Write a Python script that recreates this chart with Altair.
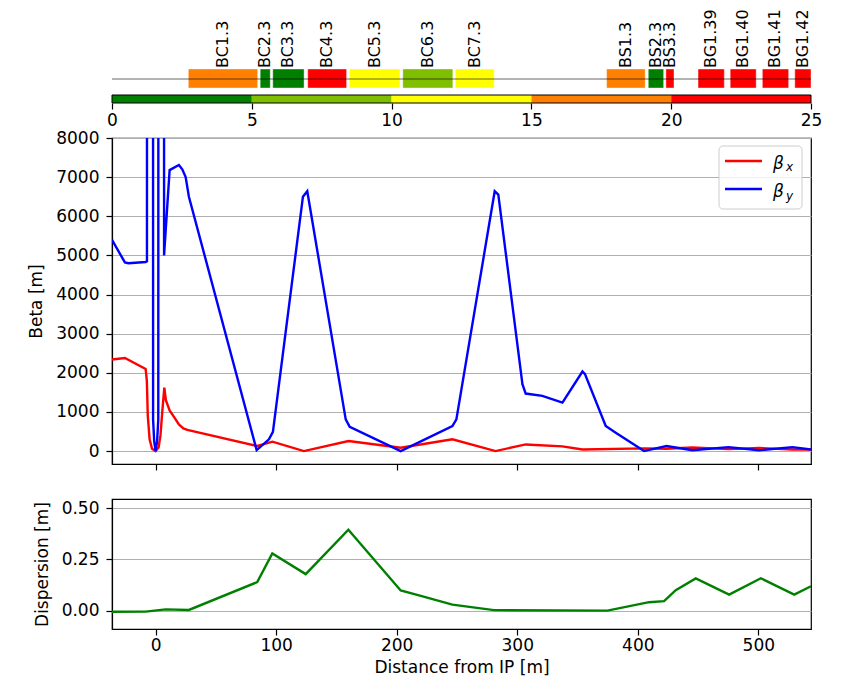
import altair as alt
import pandas as pd

# ---------------- data ----------------
# horizontal beta function
bx_s = [-36.2, -25.5, -8.3, -7.3, -6.5, -5.0, -3.0, 0.0, 2.5, 4.0, 5.5, 7.2, 8.5, 11.6, 15.5, 19.3, 23.0, 26.3,
        84.4, 96.9, 123.0, 160.0, 203.3, 246.2, 282.0, 307.0, 337.5, 354.1, 405.2, 423.8, 445.4, 475.2,
        500.6, 528.3, 543.7]
bx_v = [2340, 2380, 2100, 1800, 900, 300, 60, 0, 100, 400, 1000, 1620, 1300, 1040, 860, 680, 580, 540,
        130, 240, 0, 256, 85, 300, 0, 170, 120, 40, 70, 60, 90, 50,
        80, 40, 40]
# vertical beta function
by_s = [-36.2, -25.5, -22.7, -8.3, -7.2, -6.8, -2.4, -2.1, -1.2, 0.0, 1.2, 2.2, 2.6, 6.8, 7.0, 11.6, 19.3,
        22.1, 24.9, 27.6, 83.8, 94.0, 97.3, 122.2, 125.8, 157.7, 161.0, 203.3, 246.2, 249.5, 281.3,
        284.3, 304.3, 307.0, 320.8, 337.5, 354.1, 356.2, 373.4, 381.7, 405.2, 423.8, 445.4, 475.2,
        500.6, 528.3, 543.7]
by_v = [5400, 4820, 4800, 4830, 4850, 60000, 60000, 800, 250, 0, 250, 800, 60000, 60000, 5000, 7180, 7310,
        7200, 7000, 6500, 25, 300, 490, 6500, 6640, 810, 620, 0, 640, 810, 6640,
        6555, 1710, 1470, 1410, 1240, 2034, 1966, 640, 470, 0, 128, 20, 100,
        20, 100, 40]
# dispersion
d_s = [-36.2, -8.3, 8.3, 27.6, 84.3, 96.8, 124.5, 159.9, 203.3, 218.5, 246.2, 280.7, 374.8, 409.4,
       421.8, 431.5, 448.1, 475.8, 502.1, 529.8, 543.7]
d_v = [-0.006, -0.005, 0.006, 0.003, 0.139, 0.279, 0.178, 0.395, 0.098, 0.074, 0.029, 0.002, 0.0, 0.041,
       0.046, 0.10, 0.157, 0.078, 0.158, 0.078, 0.119]

# magnets (top strip, 0-25 scale)
mag_names = ["BC1.3", "BC2.3", "BC3.3", "BC4.3", "BC5.3", "BC6.3", "BC7.3",
             "BS1.3", "BS2.3", "BS3.3", "BG1.39", "BG1.40", "BG1.41", "BG1.42"]
mag_start = [2.73, 5.30, 5.75, 7.00, 8.49, 10.40, 12.28, 17.69, 19.18, 19.81, 20.96, 22.11, 23.26, 24.42]
mag_end = [5.21, 5.66, 6.87, 8.39, 10.30, 12.19, 13.67, 19.07, 19.73, 20.10, 21.90, 23.04, 24.20, 25.0]
mag_color = ["#ff7f00", "#007f00", "#007f00", "#ff0000", "#ffff00", "#7fbf00", "#ffff00",
             "#ff7f00", "#007f00", "#ff0000", "#ff0000", "#ff0000", "#ff0000", "#ff0000"]

band_lo = [0, 5, 10, 15, 20]
band_hi = [5, 10, 15, 20, 25]
band_color = ["#007f00", "#7fbf00", "#ffff00", "#ff7f00", "#ff0000"]
band_ticks = [0, 5, 10, 15, 20, 25]

s_ticks = [0, 100, 200, 300, 400, 500]
beta_ticks = [0, 1000, 2000, 3000, 4000, 5000, 6000, 7000, 8000]
disp_ticks = [0.0, 0.25, 0.5]

W = 699
FONT = "DejaVu Sans"
LW = 2.4

# ---------------- top strip ----------------
mag_df = pd.DataFrame({"name": mag_names, "start": mag_start, "end": mag_end, "color": mag_color})
band_df = pd.DataFrame({"lo": band_lo, "hi": band_hi, "color": band_color})
span_df = pd.DataFrame({"a": [band_ticks[0]], "b": [band_ticks[-1]]})

xtop_scale = alt.Scale(domain=[0, 25], nice=False, zero=False)
top_axis = alt.Axis(values=band_ticks, format="d", tickSize=6, labelPadding=3, domain=False,
                    grid=False, title=None, labelFontSize=17, labelFlush=False)


def xt(field):
    return alt.X(field, type="quantitative", scale=xtop_scale, axis=top_axis)


rects = alt.Chart(mag_df).mark_rect(stroke="white", strokeWidth=0.8, strokeOpacity=0.5).encode(
    x=xt("start"), x2="end:Q", y=alt.value(0), y2=alt.value(19),
    color=alt.Color("color:N", scale=None))
hline = alt.Chart(span_df).mark_rule(color="black", opacity=0.6, strokeWidth=1).encode(
    x=xt("a"), x2="b:Q", y=alt.value(10))
labels = alt.Chart(mag_df).transform_calculate(mid="(datum.start + datum.end) / 2").mark_text(
    angle=270, align="left", baseline="middle", fontSize=16, font=FONT, color="black").encode(
    x=xt("mid"), y=alt.value(-1), text="name:N")
bands = alt.Chart(band_df).mark_rect().encode(
    x=xt("lo"), x2="hi:Q", y=alt.value(26), y2=alt.value(34),
    color=alt.Color("color:N", scale=None))
outline = alt.Chart(span_df).mark_rect(fillOpacity=0, stroke="black", strokeWidth=1).encode(
    x=xt("a"), x2="b:Q", y=alt.value(26), y2=alt.value(34))

top = alt.layer(rects, hline, labels, bands, outline).properties(
    width=W, height=34, view=alt.ViewBackground(stroke="transparent"))

# ---------------- beta panel ----------------
beta_df = pd.concat([
    pd.DataFrame({"s": bx_s, "beta": bx_v, "plane": "x"}),
    pd.DataFrame({"s": by_s, "beta": by_v, "plane": "y"}),
])
xs_scale = alt.Scale(domain=[-36.2, 543.7], nice=False, zero=False)

beta_lines = alt.Chart(beta_df).mark_line(clip=True, strokeWidth=LW).encode(
    x=alt.X("s:Q", scale=xs_scale,
            axis=alt.Axis(values=s_ticks, labels=False, tickSize=6, grid=False, title=None)),
    y=alt.Y("beta:Q", scale=alt.Scale(domain=[-330, 8000], nice=False, zero=False),
            axis=alt.Axis(values=beta_ticks, format="d", tickSize=6, labelPadding=7, grid=True,
                          title="Beta [m]", titlePadding=10)),
    color=alt.Color("plane:N", scale=alt.Scale(domain=["x", "y"], range=["#ff0000", "#0000ff"]),
                    legend=None),
)

one = pd.DataFrame({"k": [0]})
leg_box = alt.Chart(one).mark_rect(fill="white", fillOpacity=0.8, stroke="#cccccc", strokeWidth=1,
                                   cornerRadius=4).encode(
    x=alt.value(607), x2=alt.value(690), y=alt.value(8), y2=alt.value(71))
leg_r = alt.Chart(one).mark_rule(color="#ff0000", strokeWidth=LW).encode(
    x=alt.value(613), x2=alt.value(650), y=alt.value(23))
leg_b = alt.Chart(one).mark_rule(color="#0000ff", strokeWidth=LW).encode(
    x=alt.value(613), x2=alt.value(650), y=alt.value(51))
leg_t1 = alt.Chart(one).mark_text(text="β", fontSize=17, fontStyle="italic", font=FONT, align="left",
                                  baseline="alphabetic", color="black").encode(
    x=alt.value(661), y=alt.value(31))
leg_s1 = alt.Chart(one).mark_text(text="x", fontSize=12, fontStyle="italic", font=FONT, align="left",
                                  baseline="alphabetic", color="black").encode(
    x=alt.value(674), y=alt.value(33))
leg_t2 = alt.Chart(one).mark_text(text="β", fontSize=17, fontStyle="italic", font=FONT, align="left",
                                  baseline="alphabetic", color="black").encode(
    x=alt.value(661), y=alt.value(59))
leg_s2 = alt.Chart(one).mark_text(text="y", fontSize=12, fontStyle="italic", font=FONT, align="left",
                                  baseline="alphabetic", color="black").encode(
    x=alt.value(674), y=alt.value(62))

mid = alt.layer(beta_lines, leg_box, leg_r, leg_b, leg_t1, leg_s1, leg_t2, leg_s2).properties(
    width=W, height=326)

# ---------------- dispersion panel ----------------
disp_df = pd.DataFrame({"s": d_s, "D": d_v})
bot = alt.Chart(disp_df).mark_line(color="#008000", strokeWidth=LW, clip=True).encode(
    x=alt.X("s:Q", scale=xs_scale,
            axis=alt.Axis(values=s_ticks, format="d", tickSize=6, labelPadding=2, grid=False,
                          title="Distance from IP [m]", titlePadding=6)),
    y=alt.Y("D:Q", scale=alt.Scale(domain=[-0.09, 0.545], nice=False, zero=False),
            axis=alt.Axis(values=disp_ticks, format=".2f", tickSize=6, labelPadding=7, grid=True,
                          title="Dispersion [m]", titlePadding=10)),
).properties(width=W, height=130)

chart = alt.vconcat(top, mid, bot, spacing=35, bounds="flush").resolve_scale(
    x="independent", y="independent"
).properties(
    padding={"left": 19, "top": 0, "right": 10, "bottom": 2}
).configure(font=FONT).configure_view(
    stroke="black", strokeWidth=1.2
).configure_axis(
    labelFont=FONT, titleFont=FONT, labelFontSize=17, titleFontSize=17, titleFontWeight="normal",
    labelColor="black", titleColor="black", tickColor="black", domainColor="black",
    gridColor="#b0b0b0", gridWidth=1.2, tickWidth=1.2, domainWidth=1.2
)

chart.save("out.html", embed_options={"renderer": "svg", "actions": False})
